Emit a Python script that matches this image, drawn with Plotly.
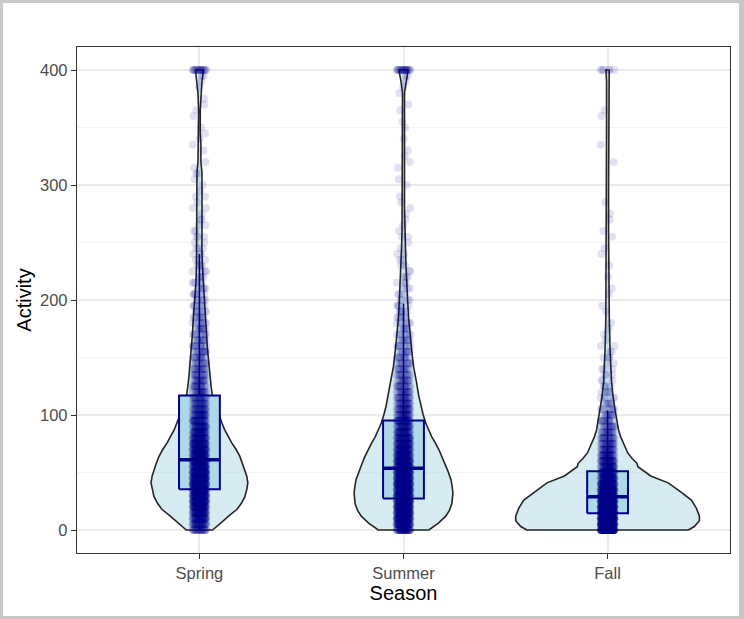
import plotly.graph_objects as go

# ---------------- data ----------------
seasons = ["Spring", "Summer", "Fall"]

# violin outlines: activity level and relative density
spring_vy = [0, 5, 9, 13, 18, 23, 29, 35, 41, 47, 52, 58, 64, 70, 76, 82, 87, 93, 99, 107,
             116, 124, 133, 145, 157, 170, 185, 200, 215, 230, 244, 260, 285, 311, 320, 335,
             345, 365, 380, 390, 396, 400]
spring_vd = [0.143, 0.21, 0.275, 0.33, 0.41, 0.455, 0.495, 0.515, 0.527, 0.515, 0.495, 0.47,
             0.44, 0.40, 0.35, 0.31, 0.275, 0.245, 0.22, 0.18, 0.143, 0.128, 0.115, 0.10, 0.088,
             0.077, 0.066, 0.056, 0.038, 0.032, 0.027, 0.03, 0.028, 0.027, 0.016, 0.016, 0.009,
             0.009, 0.016, 0.027, 0.038, 0.044]

summer_vy = [0, 6, 12, 17, 23, 32, 38, 44, 51, 58, 64, 70, 76, 81, 87, 93, 100, 107, 117, 128,
             142, 157, 170, 185, 200, 215, 230, 244, 260, 280, 380, 390, 396, 400]
summer_vd = [0.275, 0.38, 0.46, 0.50, 0.527, 0.538, 0.53, 0.516, 0.485, 0.45, 0.42, 0.385,
             0.345, 0.308, 0.275, 0.242, 0.215, 0.192, 0.165, 0.143, 0.11, 0.088, 0.071, 0.055,
             0.045, 0.033, 0.027, 0.022, 0.016, 0.011, 0.011, 0.027, 0.04, 0.05]

fall_vy = [0, 3, 8, 12, 19, 26, 33, 41, 47, 55, 58, 62, 67, 74, 81, 87, 93, 104, 116, 128, 145,
           157, 185, 215, 260, 300, 350, 390, 396, 400]
fall_vd = [0.88, 0.945, 1.0, 1.0, 0.967, 0.912, 0.80, 0.66, 0.47, 0.33, 0.32, 0.27, 0.22, 0.18,
           0.143, 0.12, 0.104, 0.082, 0.06, 0.044, 0.034, 0.027, 0.019, 0.013, 0.011, 0.011,
           0.011, 0.011, 0.014, 0.018]

# box statistics
q1 = [35.4, 27.3, 14.5]
median = [61.1, 53.7, 29.0]
q3 = [116.9, 95.3, 51.0]
whisker_low = [0, 0, 0]
whisker_high = [240, 197, 104]

# observed points: activity value bins and number of points per bin
bin_values = [0, 5, 10, 15, 20, 25, 30, 35, 40, 45,
              50, 55, 60, 65, 70, 75, 80, 85, 90, 95,
              100, 105, 110, 115, 120, 125, 130, 135, 140, 145,
              150, 155, 160, 165, 170, 175, 180, 185, 190, 195,
              200, 205, 210, 215, 220, 225, 230, 235, 240, 245,
              250, 255, 260, 265, 270, 275, 280, 285, 290, 295,
              300, 305, 310, 315, 320, 325, 330, 335, 340, 345,
              350, 355, 360, 365, 370, 375, 380, 385, 390, 395,
              400]
spring_counts = [25, 35, 45, 55, 65, 70, 75, 78, 80, 78,
                 75, 70, 68, 62, 58, 52, 45, 40, 35, 32,
                 30, 25, 22, 20, 20, 18, 17, 15, 15, 12,
                 12, 12, 11, 10, 9, 9, 8, 8, 7, 6,
                 6, 6, 5, 5, 4, 4, 4, 3, 3, 3,
                 2, 3, 2, 2, 2, 1, 2, 1, 2, 1,
                 1, 1, 2, 1, 1, 0, 1, 1, 1, 1,
                 1, 0, 1, 1, 1, 1, 0, 1, 1, 2,
                 20]
summer_counts = [45, 65, 75, 80, 82, 82, 82, 80, 78, 75,
                 70, 65, 60, 55, 50, 45, 40, 35, 32, 30,
                 27, 25, 22, 20, 18, 16, 14, 13, 12, 11,
                 10, 9, 8, 8, 7, 6, 6, 5, 5, 4,
                 4, 3, 3, 3, 3, 2, 2, 2, 2, 1,
                 1, 2, 1, 1, 1, 1, 1, 1, 1, 0,
                 1, 1, 0, 1, 1, 1, 1, 0, 1, 0,
                 1, 1, 0, 1, 1, 0, 1, 1, 1, 2,
                 22]
fall_counts = [130, 140, 140, 135, 128, 118, 105, 90, 75, 62,
               50, 42, 35, 30, 25, 22, 19, 16, 14, 12,
               10, 8, 6, 5, 5, 4, 3, 3, 3, 2,
               3, 2, 2, 1, 1, 1, 1, 0, 1, 1,
               0, 1, 1, 0, 1, 0, 1, 0, 1, 1,
               0, 1, 1, 0, 1, 1, 0, 1, 0, 0,
               0, 0, 0, 0, 1, 0, 0, 1, 0, 0,
               0, 0, 1, 1, 0, 0, 0, 0, 0, 0,
               6]

violin_y = [spring_vy, summer_vy, fall_vy]
violin_d = [spring_vd, summer_vd, fall_vd]
counts = [spring_counts, summer_counts, fall_counts]

# ---------------- style ----------------
VIOLIN_HALF = 0.45          # half width of violin at density 1
BOX_HALF = 0.10
JITTER = [-0.030, 0.012, -0.008, 0.027, -0.020, 0.004, 0.020, -0.015,
          0.033, -0.026, 0.008, -0.002, 0.016, -0.033, 0.024, -0.011,
          0.030, -0.005, 0.010, -0.023, 0.001, 0.022, -0.018, 0.006]
FONT = "Arial, Liberation Sans, sans-serif"
DARKBLUE = "#00008B"

fig = go.Figure()
centers = [1, 2, 3]

# violins
for c, vy, vd in zip(centers, violin_y, violin_d):
    xs = [c + VIOLIN_HALF * d for d in vd] + [c - VIOLIN_HALF * d for d in reversed(vd)]
    ys = list(vy) + list(reversed(vy))
    xs.append(xs[0]); ys.append(ys[0])
    fig.add_trace(go.Scatter(x=xs, y=ys, mode="lines", fill="toself",
                             fillcolor="rgba(173,216,230,0.5)",
                             line=dict(color="#262626", width=1.6),
                             hoverinfo="skip"))

# boxes
for i, c in enumerate(centers):
    fig.add_trace(go.Scatter(x=[c, c], y=[q3[i], whisker_high[i]], mode="lines",
                             line=dict(color=DARKBLUE, width=1.6), hoverinfo="skip"))
    fig.add_trace(go.Scatter(x=[c, c], y=[whisker_low[i], q1[i]], mode="lines",
                             line=dict(color=DARKBLUE, width=1.6), hoverinfo="skip"))
    fig.add_trace(go.Scatter(x=[c - BOX_HALF, c + BOX_HALF, c + BOX_HALF, c - BOX_HALF, c - BOX_HALF],
                             y=[q1[i], q1[i], q3[i], q3[i], q1[i]], mode="lines", fill="toself",
                             fillcolor="#ADD8E6", line=dict(color=DARKBLUE, width=2),
                             hoverinfo="skip"))
    fig.add_trace(go.Scatter(x=[c - BOX_HALF, c + BOX_HALF], y=[median[i], median[i]],
                             mode="lines", line=dict(color=DARKBLUE, width=3.5),
                             hoverinfo="skip"))

# jittered points
for c, cnt in zip(centers, counts):
    px, py = [], []
    for j, (v, n) in enumerate(zip(bin_values, cnt)):
        for k in range(n):
            px.append(c + JITTER[(k * 5 + j * 7) % len(JITTER)])
            py.append(v)
    fig.add_trace(go.Scatter(x=px, y=py, mode="markers",
                             marker=dict(size=8, color=DARKBLUE, opacity=0.12,
                                         line=dict(width=0)),
                             hoverinfo="skip"))

# outer frame (light gray border around the image)
W, H = 744, 619
ML, MR, MT, MB = 77, 14, 47, 66
PW, PH = W - ML - MR, H - MT - MB

def px2paper_x(p):
    return (p - ML) / PW

def px2paper_y(p):
    return (H - MB - p) / PH

frame = "#C8C8C8"
shapes = [
    dict(type="rect", xref="paper", yref="paper", x0=px2paper_x(0), x1=px2paper_x(3),
         y0=px2paper_y(H), y1=px2paper_y(0), fillcolor=frame, line=dict(width=0)),
    dict(type="rect", xref="paper", yref="paper", x0=px2paper_x(W - 5), x1=px2paper_x(W),
         y0=px2paper_y(H), y1=px2paper_y(0), fillcolor=frame, line=dict(width=0)),
    dict(type="rect", xref="paper", yref="paper", x0=px2paper_x(0), x1=px2paper_x(W),
         y0=px2paper_y(3), y1=px2paper_y(0), fillcolor=frame, line=dict(width=0)),
    dict(type="rect", xref="paper", yref="paper", x0=px2paper_x(0), x1=px2paper_x(W),
         y0=px2paper_y(H), y1=px2paper_y(H - 3), fillcolor=frame, line=dict(width=0)),
]

fig.update_layout(
    width=W, height=H,
    margin=dict(l=ML, r=MR, t=MT, b=MB, pad=0),
    paper_bgcolor="white", plot_bgcolor="white",
    showlegend=False,
    font=dict(family=FONT),
    shapes=shapes,
    xaxis=dict(
        range=[0.4, 3.6], tickvals=centers, ticktext=seasons,
        showgrid=True, gridcolor="#EBEBEB", gridwidth=1.5, zeroline=False,
        showline=True, mirror=True, linecolor="#333333", linewidth=1.3,
        ticks="outside", ticklen=5, tickwidth=1.3, tickcolor="#333333",
        tickfont=dict(size=16.5, color="#4D4D4D", family=FONT),
        title=dict(text="Season", font=dict(size=20, color="black", family=FONT), standoff=5),
    ),
    yaxis=dict(
        range=[-20, 420], tickvals=[0, 100, 200, 300, 400],
        showgrid=True, gridcolor="#EBEBEB", gridwidth=1.5, zeroline=False,
        showline=True, mirror=True, linecolor="#333333", linewidth=1.3,
        ticks="outside", ticklen=5, tickwidth=1.3, tickcolor="#333333",
        tickfont=dict(size=16.5, color="#4D4D4D", family=FONT),
        minor=dict(tickvals=[50, 150, 250, 350], showgrid=True, gridcolor="#F3F3F3",
                   gridwidth=1, ticks=""),
        title=dict(text="Activity", font=dict(size=20, color="black", family=FONT), standoff=3),
    ),
)

fig.write_html("out.html")
